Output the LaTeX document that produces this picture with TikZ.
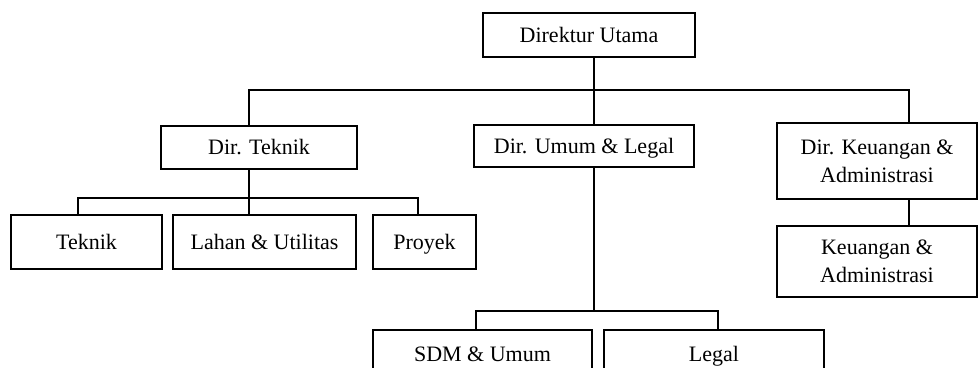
\documentclass[tikz,border=0pt]{standalone}
\usepackage{fontspec}
\setmainfont{Liberation Serif}
\begin{document}
\begin{tikzpicture}[x=1pt, y=-1pt,
        unit/.style={draw, line width=2.2pt, align=center, inner sep=0pt,
                font=\fontsize{22}{28}\selectfont},
        oneline/.style={unit, text height=18pt, text depth=4pt},
        link/.style={line width=1.2pt}
    ]
    \clip (0,0) rectangle (979,367);

    % top level
    \node[oneline, minimum width=212pt, minimum height=44pt] (du) at (589,35) {Direktur Utama};

    % directors
    \node[oneline, minimum width=196pt, minimum height=43pt] (dt) at (259,147.5) {Dir. Teknik};
    \node[oneline, minimum width=220pt, minimum height=42pt] (dul) at (584,146) {Dir. Umum \& Legal};
    \node[unit, minimum width=200pt, minimum height=76pt] (dk) at (877,161) {Dir. Keuangan \&\\Administrasi};

    % divisions
    \node[oneline, minimum width=151pt, minimum height=54pt] (teknik) at (86.5,242) {Teknik};
    \node[oneline, minimum width=183pt, minimum height=54pt] (lahan) at (264.5,242) {Lahan \& Utilitas};
    \node[oneline, minimum width=103pt, minimum height=54pt] (proyek) at (424.5,242) {Proyek};
    \node[unit, minimum width=200pt, minimum height=71pt] (ku) at (877,261.5) {Keuangan \&\\Administrasi};
    \node[oneline, minimum width=219pt, minimum height=48pt] (sdm) at (482.5,354) {SDM \& Umum};
    \node[oneline, minimum width=220pt, minimum height=48pt] (legal) at (714,354) {Legal};

    % bus points
    \coordinate (b1) at (594,90);
    \coordinate (b2) at (249,198);
    \coordinate (b3) at (594,311);
    \coordinate (kx) at (909,0);

    % connectors
    \draw[link] (du.south -| b1) -- (dul.north -| b1);
    \draw[link] (dt.north -| b2) |- (b1) -| (dk.north -| kx);
    \draw[link] (dt.south -| b2) -- (lahan.north -| b2);
    \draw[link] ([xshift=-8.5pt]teknik.north) |- (b2) -| ([xshift=-6.5pt]proyek.north);
    \draw[link] (dul.south -| b3) -- (b3);
    \draw[link] ([xshift=-6.5pt]sdm.north) |- (b3) -| ([xshift=4pt]legal.north);
    \draw[link] (dk.south -| kx) -- (ku.north -| kx);
\end{tikzpicture}
\end{document}
